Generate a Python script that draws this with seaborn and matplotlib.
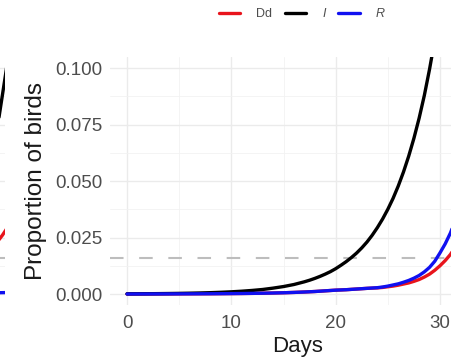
import pandas as pd
import matplotlib
matplotlib.use("Agg")
import matplotlib.pyplot as plt
from matplotlib.lines import Line2D
import seaborn as sns

# values (proportion of birds); whole days to 16, then half days
days = [0, 1, 2, 3, 4, 5, 6, 7, 8, 9, 10, 11, 12, 13, 14, 15, 16,
        16.5, 17, 17.5, 18, 18.5, 19, 19.5, 20, 20.5, 21, 21.5, 22, 22.5, 23, 23.5,
        24, 24.5, 25, 25.5, 26, 26.5, 27, 27.5, 28, 28.5, 29, 29.5, 30, 30.5, 31,
        31.5, 32]
infected = [0.00008, 0.0001, 0.00013, 0.00017, 0.00022, 0.00028, 0.00036, 0.00046,
            0.00059, 0.00076, 0.00097, 0.00124, 0.00158, 0.002, 0.0026, 0.0033, 0.0042,
            0.0048, 0.0054, 0.0061, 0.0069, 0.0078, 0.0088, 0.0099, 0.0112, 0.0127,
            0.0143, 0.0161, 0.0181, 0.0204, 0.023, 0.026, 0.0294, 0.0332, 0.0375,
            0.0423, 0.0478, 0.054, 0.061, 0.0689, 0.0778, 0.0879, 0.0995, 0.1124,
            0.127, 0.143, 0.162, 0.183, 0.205]
recovered = [0.0, 0.00001, 0.00002, 0.00003, 0.00004, 0.00005, 0.00007, 0.00009,
             0.00011, 0.00014, 0.00018, 0.00022, 0.00028, 0.00035, 0.00044, 0.00055,
             0.0007, 0.00079, 0.00088, 0.00099, 0.0011, 0.00125, 0.0014, 0.00155,
             0.0017, 0.0018, 0.0019, 0.00205, 0.0022, 0.00235, 0.0025, 0.00265, 0.0028,
             0.0031, 0.0035, 0.004, 0.0045, 0.0052, 0.006, 0.007, 0.0082, 0.0098,
             0.0118, 0.0145, 0.0182, 0.0222, 0.027, 0.033, 0.04]
dead = [0.0, 0.00001, 0.00002, 0.00003, 0.00004, 0.00005, 0.00007, 0.00009,
        0.00011, 0.00014, 0.00018, 0.00022, 0.00028, 0.00035, 0.00044, 0.00055,
        0.0007, 0.00079, 0.00088, 0.00099, 0.0011, 0.00125, 0.0014, 0.00155,
        0.0017, 0.0018, 0.0019, 0.00205, 0.0022, 0.00235, 0.0025, 0.0026, 0.0027,
        0.0029, 0.0032, 0.0035, 0.0039, 0.0044, 0.0049, 0.0056, 0.0064, 0.0075,
        0.0088, 0.0105, 0.0125, 0.0148, 0.0175, 0.021, 0.025]
threshold = 0.016

# end of the curves of the neighbouring panel (cut off at the left edge)
left_days = [32, 33, 34, 35]
left_infected = [0.035, 0.058, 0.088, 0.118]
left_dead = [0.017, 0.02, 0.026, 0.033]
left_recovered = [0.0004, 0.0005, 0.0006, 0.0007]

labels = ["Dd", "I", "R"]
colors = {"Dd": "#E8141C", "I": "#000000", "R": "#1010F0"}

n = len(days)
df = pd.DataFrame({
    "day": days * 3,
    "value": dead + infected + recovered,
    "state": ["Dd"] * n + ["I"] * n + ["R"] * n,
})
m = len(left_days)
df_left = pd.DataFrame({
    "day": left_days * 3,
    "value": left_dead + left_infected + left_recovered,
    "state": ["Dd"] * m + ["I"] * m + ["R"] * m,
})

sns.set_theme(style="white")
plt.rcParams["font.family"] = ["Liberation Sans", "DejaVu Sans"]

fig = plt.figure(figsize=(4.51, 3.58), dpi=100)
ax = fig.add_axes([0.2435, 0.1472, 0.8304, 0.6944])
ax_left = fig.add_axes([0.0111 - 0.8304, 0.1472, 0.8304, 0.6944])


def style_panel(a):
    a.set_xlim(-1.65, 34.25)
    a.set_ylim(-0.005, 0.105)
    a.set_xticks([0, 10, 20, 30])
    a.set_xticks([5, 15, 25], minor=True)
    a.set_yticks([0, 0.025, 0.05, 0.075, 0.1])
    a.set_yticks([0.0125, 0.0375, 0.0625, 0.0875], minor=True)
    a.grid(which="major", color="#EBEBEB", linewidth=1.0)
    a.grid(which="minor", color="#F2F2F2", linewidth=0.6)
    a.set_axisbelow(True)
    for s in a.spines.values():
        s.set_visible(False)
    a.tick_params(which="both", length=0)


for a, data in [(ax_left, df_left), (ax, df)]:
    style_panel(a)
    a.axhline(threshold, color="#BDBDBD", linewidth=1.5, dashes=(6.5, 7.5), zorder=1)
    sns.lineplot(data=data, x="day", y="value", hue="state", hue_order=labels,
                 palette=colors, linewidth=2.4, legend=False, ax=a, zorder=3)

ax_left.set_xticklabels([])
ax_left.set_yticklabels([])
ax_left.set_xlabel("")
ax_left.set_ylabel("")

ax.set_xticklabels(["0", "10", "20", "30"])
ax.set_yticklabels(["0.000", "0.025", "0.050", "0.075", "0.100"])
ax.tick_params(axis="both", labelsize=13.5, labelcolor="#4D4D4D")
ax.tick_params(axis="y", pad=5)
ax.tick_params(axis="x", pad=7)
ax.set_xlabel("Days", fontsize=16, color="#1A1A1A", labelpad=3)
ax.set_ylabel("Proportion of birds", fontsize=17.5, color="#1A1A1A", labelpad=6)

handles = [Line2D([], [], color=colors[k], linewidth=2.4) for k in labels]
leg = fig.legend(handles, labels, loc="center", bbox_to_anchor=(0.6696, 0.961),
                 ncol=3, frameon=False, fontsize=9, handlelength=1.7,
                 handletextpad=1.3, columnspacing=1.0)
for t in leg.get_texts():
    t.set_color("#4D4D4D")
    if t.get_text() in ("I", "R"):
        t.set_fontstyle("italic")

fig.savefig("out.png", dpi=100)
